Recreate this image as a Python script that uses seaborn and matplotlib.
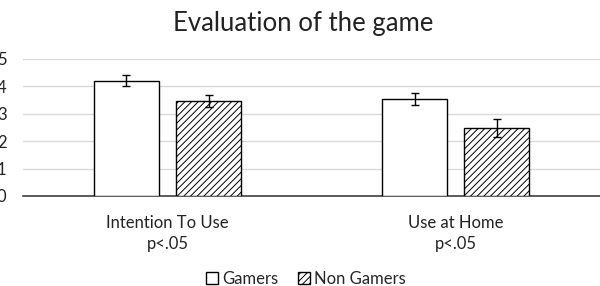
import matplotlib.pyplot as plt
import seaborn as sns
import pandas as pd

categories = ["Intention To Use\np<.05", "Use at Home\np<.05"]
groups = ["Gamers", "Non Gamers"]
gamers_mean = [4.21, 3.54]
gamers_err = [0.19, 0.23]
non_gamers_mean = [3.47, 2.47]
non_gamers_err = [0.21, 0.33]

if __name__ == "__main__":
    sns.set_style("white")
    plt.rcParams['font.family'] = ['Lato', 'DejaVu Sans']
    plt.rcParams['hatch.linewidth'] = 0.7

    df = pd.DataFrame({
        "Category": categories * 2,
        "Score": gamers_mean + non_gamers_mean,
        "Group": [groups[0]] * 2 + [groups[1]] * 2,
    })

    fig = plt.figure(figsize=(6, 2.86), dpi=100)
    ax = fig.add_axes([0.0387, 0.315, 0.9613, 0.479])

    sns.barplot(data=df, x="Category", y="Score", hue="Group", hue_order=groups,
                palette=["white", "white"], edgecolor="black", linewidth=1.0,
                width=0.57, gap=0.21, errorbar=None, ax=ax, zorder=3)

    # hatch the non gamers bars and add error bars at patch centres
    n = len(categories)
    errs = gamers_err + non_gamers_err
    for i, bar in enumerate(ax.patches[:2 * n]):
        if i >= n:
            bar.set_hatch("/////")
        xc = bar.get_x() + bar.get_width() / 2
        ax.errorbar(xc, bar.get_height(), yerr=errs[i], color="black",
                    capsize=3, elinewidth=1.0, capthick=1.0, zorder=4)

    ax.set_ylim(0, 5)
    ax.set_xlim(-0.5, 1.5)
    ax.set_yticks(range(6))
    ax.yaxis.grid(True, color="#d9d9d9", linewidth=1.0, zorder=0)
    ax.set_xlabel("")
    ax.set_ylabel("")
    sns.despine(ax=ax, left=True, right=True, top=True)
    ax.spines["bottom"].set_color("#404040")
    ax.spines["bottom"].set_linewidth(1.2)
    ax.tick_params(axis="both", length=0, labelsize=12, colors="#222222")
    ax.tick_params(axis="y", pad=12)
    ax.tick_params(axis="x", pad=14)
    for t in ax.get_xticklabels():
        t.set_linespacing(1.35)

    ax.set_title("Evaluation of the game", fontsize=18.5, color="#222222",
                 pad=20, x=0.485)

    handles, labels = ax.get_legend_handles_labels()
    ax.legend([], [], frameon=False)
    leg = fig.legend(handles, labels, loc="center", bbox_to_anchor=(0.51, 0.025),
                     ncol=2, frameon=False, fontsize=12, handlelength=0.7,
                     handleheight=0.7, handletextpad=0.25, columnspacing=1.2,
                     borderpad=0)
    leg.get_patches()[1].set_hatch("/////")

    fig.savefig("out.png", dpi=100)
